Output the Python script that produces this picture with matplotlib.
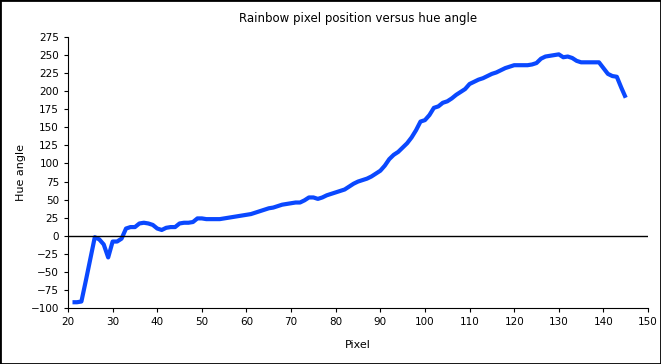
import numpy as np
import matplotlib.pyplot as plt
from matplotlib.patches import Rectangle

pixel = np.arange(21, 146)
hue = [-92, -92, -91, -62, -32, -2, -5, -12, -30, -8,
       -8, -4, 10, 12, 12, 17, 18, 17, 15, 10,
       8, 11, 12, 12, 17, 18, 18, 19, 24, 24,
       23, 23, 23, 23, 24, 25, 26, 27, 28, 29,
       30, 32, 34, 36, 38, 39, 41, 43, 44, 45,
       46, 46, 49, 53, 53, 51, 53, 56, 58, 60,
       62, 64, 68, 72, 75, 77, 79, 82, 86, 90,
       97, 106, 112, 116, 122, 128, 136, 146, 158, 160,
       167, 177, 179, 184, 186, 190, 195, 199, 203, 210,
       213, 216, 218, 221, 224, 226, 229, 232, 234, 236,
       236, 236, 236, 237, 239, 245, 248, 249, 250, 251,
       247, 248, 246, 242, 240, 240, 240, 240, 240, 232,
       224, 221, 220, 205, 191]

fig = plt.figure(figsize=(6.61, 3.64), dpi=100)
ax = fig.add_axes([0.1029, 0.1538, 0.8775, 0.7445])

ax.plot(pixel, hue, color='#0a48ff', lw=3.0, solid_capstyle='butt')
ax.axhline(0, color='black', lw=1)

ax.set_xlim(20, 150)
ax.set_ylim(-100, 275)
ax.set_xticks(np.arange(20, 151, 10))
ax.set_yticks(np.arange(-100, 276, 25))
ax.tick_params(labelsize=7.5, length=3, width=0.8, direction='out')
for s in ['top', 'right']:
    ax.spines[s].set_visible(False)

ax.set_xlabel('Pixel', fontsize=8, labelpad=9)
ax.set_ylabel('Hue angle', fontsize=8, labelpad=3)
ax.set_title('Rainbow pixel position versus hue angle', fontsize=8.5, pad=11)

fig.patches.append(Rectangle((0, 0), 1, 1, transform=fig.transFigure,
                             fill=False, edgecolor='black', lw=2))

fig.savefig('out.png', dpi=100)
